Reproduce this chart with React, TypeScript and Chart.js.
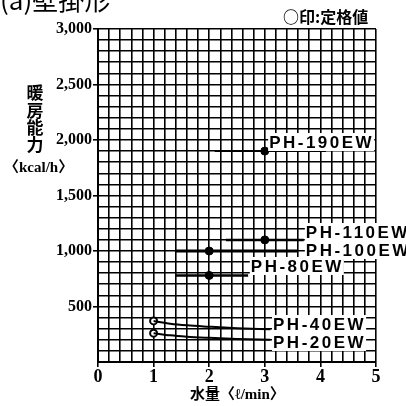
import React, { useEffect, useRef } from "react";
import { Chart, registerables } from "chart.js";

Chart.register(...registerables);

// ---- data ----
const modelNames = ["PH-190EW", "PH-110EW", "PH-100EW", "PH-80EW", "PH-40EW", "PH-20EW"];

const x190 = [2.1, 4.1];
const y190 = [1900, 1900];
const x110 = [2.3, 3.7];
const y110 = [1100, 1100];
const x100 = [1.4, 3.6];
const y100 = [1000, 1000];
const x80 = [1.4, 2.7];
const y80 = [780, 780];
const x40 = [1.0, 1.3, 1.6, 2.0, 2.5, 3.1];
const y40 = [370, 345, 330, 318, 305, 295];
const x20 = [1.0, 1.3, 1.6, 2.0, 2.5, 3.1];
const y20 = [260, 240, 228, 218, 208, 200];

const ratedX = [3, 3, 2, 2];
const ratedY = [1900, 1100, 1000, 780];
const minFlowX = [1, 1];
const minFlowY = [370, 260];

// label anchors (data units): left edge x, centre y
const labelAnchorX = [3.06, 3.72, 3.72, 2.73, 3.13, 3.13];
const labelAnchorY = [1982, 1171, 1009, 865, 342, 180];

const yMajorTicks = [500, 1000, 1500, 2000, 2500, 3000];
const xMajorTicks = [0, 1, 2, 3, 4, 5];

const zip = (xs: number[], ys: number[]) => xs.map((x, i) => ({ x, y: ys[i] }));

const isMajorX = (v: number) => xMajorTicks.some((t) => Math.abs(t - v) < 1e-6);
const isMajorY = (v: number) => yMajorTicks.some((t) => Math.abs(t - v) < 1e-6);

const textPlugin = {
  id: "textPlugin",
  afterDatasetsDraw(chart: any) {
    const ctx = chart.ctx;
    const xs = chart.scales.x;
    const ys = chart.scales.y;
    ctx.save();
    ctx.font = 'bold 17px "Liberation Sans", Arial, sans-serif';
    (ctx as any).letterSpacing = "2.5px";
    ctx.textBaseline = "middle";
    ctx.textAlign = "left";
    modelNames.forEach((name, i) => {
      const px = xs.getPixelForValue(labelAnchorX[i]);
      const py = ys.getPixelForValue(labelAnchorY[i]);
      const w = ctx.measureText(name).width;
      ctx.fillStyle = "#fff";
      ctx.fillRect(px, py - 9, w + 1, 18);
      ctx.fillStyle = "#000";
      ctx.fillText(name, px + 1, py + 1);
    });
    (ctx as any).letterSpacing = "0px";
    ctx.restore();
  },
  afterDraw(chart: any) {
    const ctx = chart.ctx;
    ctx.save();
    ctx.fillStyle = "#000";
    ctx.textAlign = "left";
    ctx.textBaseline = "alphabetic";
    ctx.font = '26px "Noto Sans CJK JP", sans-serif';
    ctx.fillText("(a)壁掛形", 0, 10);
    ctx.font = 'bold 16px "Noto Sans CJK JP", sans-serif';
    ctx.textBaseline = "middle";
    ctx.fillText("○印:定格値", 283, 17);
    // y title
    ctx.font = 'bold 17px "Noto Sans CJK JP", sans-serif';
    ctx.textAlign = "center";
    const yTitle = "暖房能力";
    const yCenters = [93, 111, 128, 145];
    for (let i = 0; i < yTitle.length; i++) ctx.fillText(yTitle[i], 35, yCenters[i]);
    ctx.font = 'bold 15px "Liberation Serif", "Noto Sans CJK JP", serif';
    ctx.textAlign = "left";
    ctx.fillText("〈kcal/h〉", 4, 168);
    ctx.fillText("水量〈ℓ/min〉", 190, 395);
    ctx.restore();
  },
};

export default function App() {
  const ref = useRef<HTMLCanvasElement>(null);
  useEffect(() => {
    if (!ref.current) return;
    const lineStyle = (w: number) => ({
      borderColor: "#000",
      borderWidth: w,
      pointRadius: 0,
      showLine: true,
      fill: false,
    });
    const chart = new Chart(ref.current, {
      type: "scatter",
      data: {
        datasets: [
          { label: modelNames[0], data: zip(x190, y190), ...lineStyle(2) },
          { label: modelNames[1], data: zip(x110, y110), ...lineStyle(2.5) },
          { label: modelNames[2], data: zip(x100, y100), ...lineStyle(3) },
          { label: modelNames[3], data: zip(x80, y80), ...lineStyle(2.5) },
          { label: modelNames[4], data: zip(x40, y40), ...lineStyle(2), cubicInterpolationMode: "monotone" },
          { label: modelNames[5], data: zip(x20, y20), ...lineStyle(2), cubicInterpolationMode: "monotone" },
          {
            label: "rated",
            data: zip(ratedX, ratedY),
            pointRadius: 4,
            pointBackgroundColor: "#000",
            pointBorderColor: "#000",
            showLine: false,
          },
          {
            label: "min",
            data: zip(minFlowX, minFlowY),
            pointRadius: 3.5,
            pointBackgroundColor: "#fff",
            pointBorderColor: "#000",
            pointBorderWidth: 2,
            showLine: false,
          },
        ],
      } as any,
      options: {
        responsive: false,
        animation: false,
        layout: { padding: { left: 8, top: 29, right: 30, bottom: 0 } },
        plugins: { legend: { display: false }, tooltip: { enabled: false } },
        scales: {
          x: {
            type: "linear",
            min: 0,
            max: 5,
            afterFit: (s: any) => {
              s.height = 44;
            },
            afterBuildTicks: (s: any) => {
              const t = [];
              for (let i = 0; i <= 25; i++) t.push({ value: i / 5 });
              s.ticks = t;
            },
            ticks: {
              autoSkip: false,
              maxRotation: 0,
              padding: 0,
              color: "#000",
              font: { family: '"Liberation Serif", serif', size: 18, weight: "bold" },
              callback: (v: any) => (isMajorX(Number(v)) ? String(Math.round(Number(v))) : ""),
            },
            grid: {
              color: "#000",
              lineWidth: 1.6,
              tickLength: 5,
              tickColor: (c: any) => (c.tick && isMajorX(c.tick.value) ? "#000" : "rgba(0,0,0,0)"),
            },
            border: { color: "#000", width: 2 },
          },
          y: {
            type: "linear",
            min: 0,
            max: 3000,
            afterFit: (s: any) => {
              s.width = 90;
            },
            afterBuildTicks: (s: any) => {
              const t = [];
              for (let i = 0; i <= 30; i++) t.push({ value: i * 100 });
              s.ticks = t;
            },
            ticks: {
              autoSkip: false,
              padding: 1,
              color: "#000",
              font: { family: '"Liberation Serif", serif', size: 16, weight: "bold" },
              callback: (v: any) => (isMajorY(Number(v)) ? Number(v).toLocaleString("en-US") : ""),
            },
            grid: {
              color: "#000",
              lineWidth: 1.6,
              tickLength: 5,
              tickColor: (c: any) => (c.tick && isMajorY(c.tick.value) ? "#000" : "rgba(0,0,0,0)"),
            },
            border: { color: "#000", width: 2 },
          },
        },
      } as any,
      plugins: [textPlugin],
    });
    return () => chart.destroy();
  }, []);
  return (
    <div style={{ position: "fixed", left: 0, top: 0, width: 406, height: 406, background: "#fff" }}>
      <canvas ref={ref} width={406} height={406} style={{ width: 406, height: 406 }} />
    </div>
  );
}
